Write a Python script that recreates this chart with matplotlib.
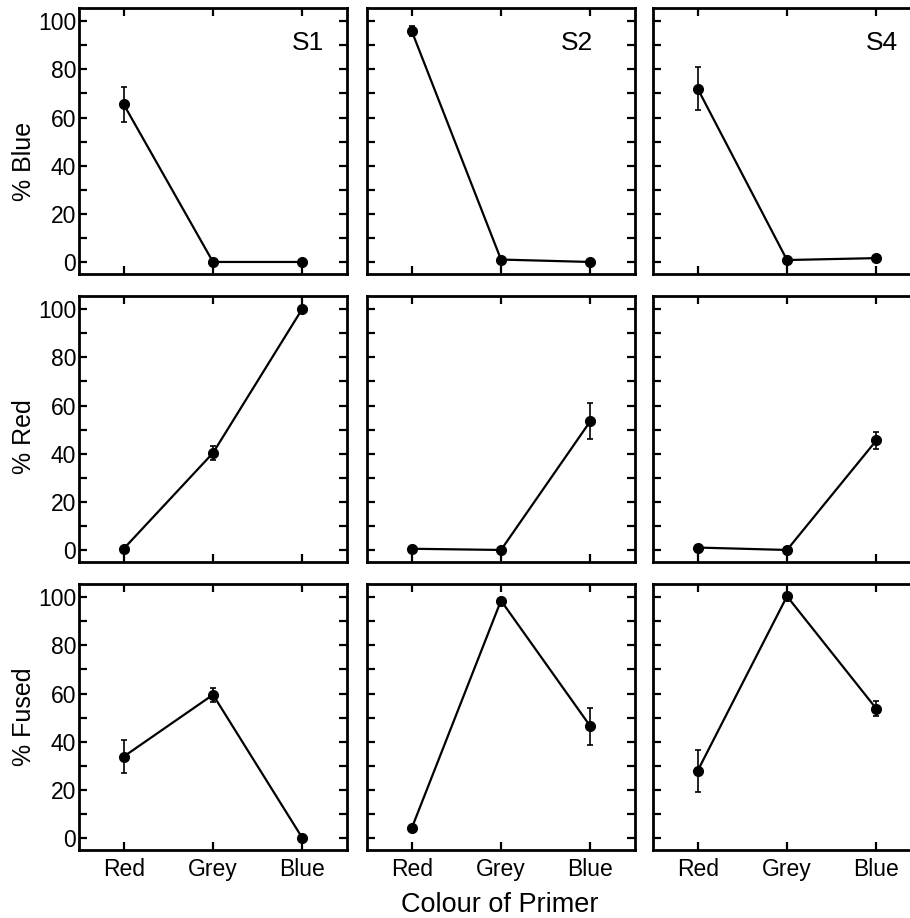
import matplotlib
matplotlib.use('Agg')
import matplotlib.pyplot as plt
from matplotlib.ticker import MultipleLocator

plt.rcParams['font.family'] = ['Liberation Sans', 'DejaVu Sans']

# === DATA ===
primers = ['Red', 'Grey', 'Blue']
strains = ['S1', 'S2', 'S4']
row_labels = ['% Blue', '% Red', '% Fused']

blue_mean = [[65.5, 0.0, 0.0], [96.0, 1.0, 0.0], [72.0, 0.8, 1.6]]
blue_err = [[7.3, 0, 0], [2.0, 0, 0], [9.0, 0, 0]]

red_mean = [[0.5, 40.3, 100.2], [0.5, 0.0, 53.5], [1.0, 0.0, 45.5]]
red_err = [[0, 2.8, 0], [0, 0, 7.5], [0, 0, 3.7]]

fused_mean = [[33.8, 59.5, 0.0], [4.0, 98.6, 46.4], [27.9, 100.4, 53.7]]
fused_err = [[6.7, 3.0, 0], [1.5, 0, 7.7], [8.8, 0, 3.1]]

rows = [(blue_mean, blue_err), (red_mean, red_err), (fused_mean, fused_err)]

# === LAYOUT (pixels) ===
W, H = 910, 918
col_left = [79, 367, 653]
row_top = [8, 296, 584]
pw, ph = 268, 266
label_pos = [(0.855, 0.87), (0.785, 0.87), (0.855, 0.87)]
ylabel_y = [0.425, 0.47, 0.5]

fig = plt.figure(figsize=(W / 100, H / 100), dpi=100)

x = list(range(len(primers)))
for r, (means, errs) in enumerate(rows):
    for c in range(3):
        ax = fig.add_axes([col_left[c] / W, 1 - (row_top[r] + ph) / H, pw / W, ph / H])
        ax.errorbar(x, means[c], yerr=errs[c], color='black', lw=1.6,
                    marker='o', ms=7, elinewidth=1.2, capsize=2.5, capthick=1.2)
        ax.set_xlim(-0.5, 2.5)
        ax.set_ylim(-5, 105.5)
        ax.set_xticks(x)
        ax.yaxis.set_major_locator(MultipleLocator(20))
        ax.yaxis.set_minor_locator(MultipleLocator(10))
        ax.tick_params(which='both', direction='in', length=6, width=1.6,
                       top=True, right=True, labelsize=16.5)
        ax.tick_params(axis='y', pad=2)
        ax.tick_params(axis='x', pad=6)
        for s in ax.spines.values():
            s.set_linewidth(2)
        if r == 2:
            ax.set_xticklabels(primers)
        else:
            ax.set_xticklabels([])
        if c == 0:
            ax.set_ylabel(row_labels[r], fontsize=18, va='center')
            ax.yaxis.set_label_coords(-0.205, ylabel_y[r])
        else:
            ax.set_yticklabels([])
        if r == 0:
            ax.text(label_pos[c][0], label_pos[c][1], strains[c], transform=ax.transAxes,
                    ha='center', va='center', fontsize=19)

fig.text(500 / W, 1 - 905 / H, 'Colour of Primer', ha='center', va='center', fontsize=19.5)

fig.savefig('out.png', dpi=100)
